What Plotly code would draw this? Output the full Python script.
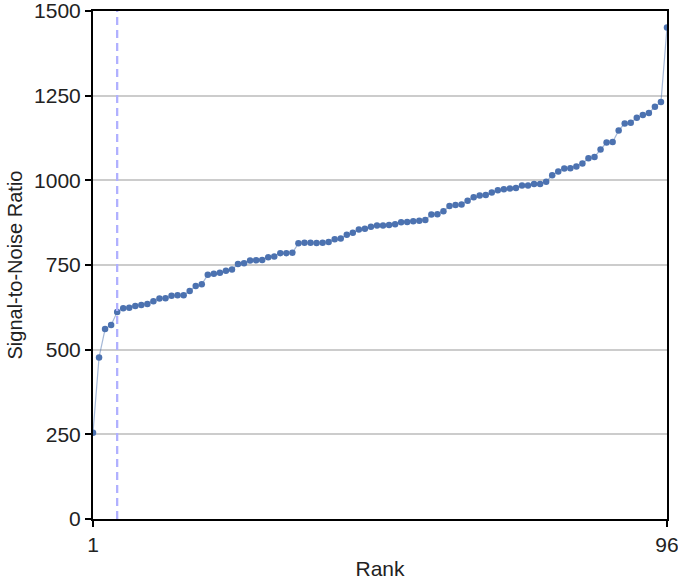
import plotly.graph_objects as go

# Signal-to-noise ratio of each sample, sorted ascending by rank
ranks = list(range(1, 97))
snr = [
    255, 477, 561, 573, 611, 622, 624, 629, 632, 635,
    643, 651, 652, 659, 661, 661, 673, 688, 693, 721,
    724, 727, 733, 737, 753, 755, 763, 764, 765, 773,
    775, 785, 785, 786, 814, 816, 816, 815, 816, 818,
    826, 828, 839, 845, 855, 857, 863, 867, 867, 868,
    870, 876, 877, 879, 881, 883, 899, 900, 909, 924,
    927, 929, 940, 950, 955, 957, 964, 971, 974, 976,
    977, 985, 985, 989, 989, 996, 1015, 1026, 1035, 1036,
    1041, 1050, 1065, 1069, 1091, 1112, 1113, 1147, 1168, 1170,
    1185, 1193, 1199, 1217, 1231, 1451,
]
cutoff_rank = 5
x_ticks = [1, 96]
y_ticks = [0, 250, 500, 750, 1000, 1250, 1500]

fig = go.Figure()
fig.add_trace(go.Scatter(
    x=ranks, y=snr, mode="lines+markers",
    line=dict(color="rgba(76,114,176,0.5)", width=1.2),
    marker=dict(color="#4C72B0", size=6.5),
    showlegend=False,
))
fig.add_shape(
    type="line", xref="x", yref="paper",
    x0=cutoff_rank, x1=cutoff_rank, y0=0, y1=1,
    line=dict(color="#B0B0FF", width=2.3, dash="8px,5px"),
)

font = "Liberation Sans, Arial, sans-serif"
fig.update_layout(
    width=678, height=581,
    margin=dict(l=93, r=11, t=11, b=62),
    plot_bgcolor="white", paper_bgcolor="white",
    font=dict(family=font, size=21, color="#222222"),
    xaxis=dict(
        range=[1, 96], tickvals=x_ticks, ticks="outside", ticklen=6,
        tickwidth=1.5, tickcolor="black", automargin=False,
        ticklabeloverflow="allow",
        showline=True, linecolor="black", linewidth=2, mirror=True,
        showgrid=False, zeroline=False,
        title=dict(text="Rank", font=dict(size=21), standoff=6),
    ),
    yaxis=dict(
        range=[0, 1500], tickvals=y_ticks, ticks="outside", ticklen=6,
        tickwidth=1.5, tickcolor="black", automargin=False,
        ticklabeloverflow="allow",
        showline=True, linecolor="black", linewidth=2, mirror=True,
        showgrid=True, gridcolor="#cccccc", gridwidth=1.5, zeroline=False,
        title=dict(text="Signal-to-Noise Ratio", font=dict(size=20), standoff=6),
    ),
)

fig.write_html("out.html")
